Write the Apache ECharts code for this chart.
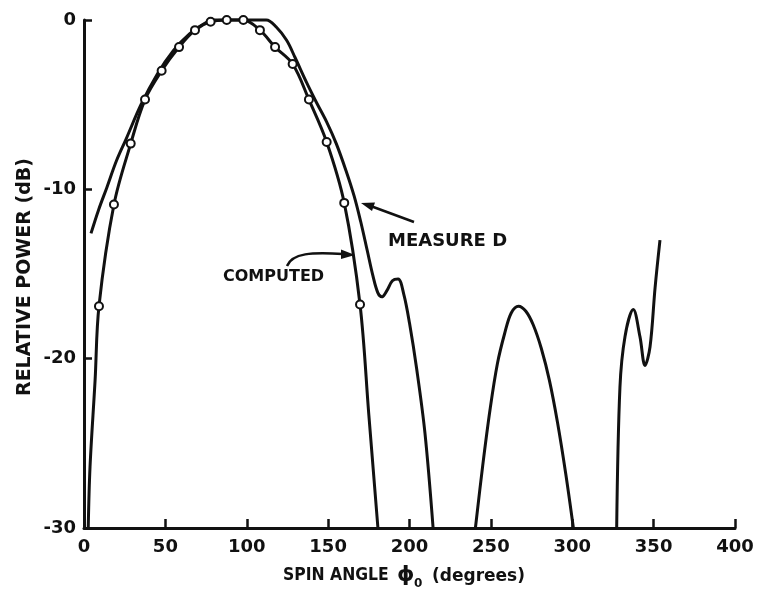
<!DOCTYPE html>
<html><head><meta charset="utf-8">
<script src="https://cdn.jsdelivr.net/npm/echarts@6/dist/echarts.min.js"></script>
<style>html,body{margin:0;padding:0;background:#fff}#c{width:757px;height:590px}</style>
</head><body><div id="c"></div>
<script>
// Computed pattern (smooth line) and its circle markers
const computedX = [2.6, 3.7, 6.8, 9.2, 18.4, 28.7, 37.5, 47.7, 58.4, 68.2, 77.8, 87.7, 97.9, 108.1, 117.4, 128.2, 138.2, 149.1, 159.9, 169.6, 175.0, 180.6];
const computedY = [-30, -26.4, -21.3, -16.9, -10.9, -7.3, -4.7, -3.0, -1.6, -0.6, -0.1, 0, 0, -0.6, -1.6, -2.6, -4.7, -7.2, -10.8, -16.8, -23.3, -30];
const circleX = [9.2, 18.4, 28.7, 37.5, 47.7, 58.4, 68.2, 77.8, 87.7, 97.9, 108.1, 117.4, 128.2, 138.2, 149.1, 159.9, 169.6];
const circleY = [-16.9, -10.9, -7.3, -4.7, -3.0, -1.6, -0.6, -0.1, 0, 0, -0.6, -1.6, -2.6, -4.7, -7.2, -10.8, -16.8];
// Measured pattern, three visible pieces
const measured1X = [4.3, 9, 14, 20, 26, 35, 45, 55, 65, 75, 80, 112, 118, 124.5, 129.6, 136.8, 143, 149, 155, 161, 166, 170, 174, 177.5, 180.5, 183, 186, 189.5, 193, 196.5, 200, 204.4, 209.5, 214.5];
const measured1Y = [-12.6, -11.2, -9.9, -8.3, -7.0, -5.0, -3.2, -1.8, -0.8, -0.15, 0, 0, -0.4, -1.2, -2.2, -3.7, -4.9, -6.0, -7.3, -8.9, -10.4, -11.9, -13.6, -15.1, -16.1, -16.35, -16.0, -15.4, -15.3, -16.2, -17.9, -20.6, -24.4, -30];
const measured2X = [240.5, 245, 249.5, 254, 258.5, 262.5, 267, 271.5, 276, 281, 286, 291, 296, 300.7];
const measured2Y = [-30, -26.3, -23.0, -20.3, -18.5, -17.3, -16.9, -17.2, -18.0, -19.4, -21.3, -23.8, -26.8, -30];
const measured3X = [327.3, 329.3, 332.4, 337.5, 341.6, 344.7, 347.8, 350.9, 353.9];
const measured3Y = [-30, -21.7, -18.7, -17.1, -18.7, -20.4, -19.3, -15.8, -13.0];

const zip = (xs, ys) => xs.map((x, i) => [x, ys[i]]);
const INK = '#111';
const FONT = 'DejaVu Sans';

const lineSeries = (xs, ys) => ({
  type: 'line', data: zip(xs, ys), smooth: 0.35, symbol: 'none', clip: false,
  lineStyle: { color: INK, width: 3 }, z: 3
});

const chart = echarts.init(document.getElementById('c'), null, { renderer: 'canvas' });
chart.setOption({
  backgroundColor: '#fff',
  animation: false,
  grid: { left: 84, right: 22, top: 20, bottom: 62 },
  xAxis: {
    type: 'value', min: 0, max: 400, interval: 50,
    axisLine: { show: true, onZero: false, lineStyle: { color: INK, width: 3 } },
    axisTick: { show: true, inside: true, length: 9, lineStyle: { color: INK, width: 2.5 } },
    axisLabel: { color: INK, fontFamily: FONT, fontWeight: 'bold', fontSize: 18, margin: 10 },
    splitLine: { show: false }
  },
  yAxis: {
    type: 'value', min: -30, max: 0, interval: 10,
    axisLine: { show: true, onZero: false, lineStyle: { color: INK, width: 3 } },
    axisTick: { show: true, inside: true, length: 8, lineStyle: { color: INK, width: 2.5 } },
    axisLabel: { color: INK, fontFamily: FONT, fontWeight: 'bold', fontSize: 18, margin: 8 },
    splitLine: { show: false }
  },
  series: [
    lineSeries(computedX, computedY),
    lineSeries(measured1X, measured1Y),
    lineSeries(measured2X, measured2Y),
    lineSeries(measured3X, measured3Y),
    {
      type: 'scatter', data: zip(circleX, circleY), symbol: 'circle', symbolSize: 8,
      itemStyle: { color: '#fff', borderColor: INK, borderWidth: 2, opacity: 1 }, z: 5
    }
  ],
  graphic: [
    { type: 'text', x: 25, y: 277, rotation: Math.PI / 2,
      style: { text: 'RELATIVE POWER (dB)', font: 'bold 19px "DejaVu Sans"', fill: INK, align: 'center', verticalAlign: 'middle' } },
    { type: 'text', x: 283, y: 576, scaleX: 0.92,
      style: { text: 'SPIN ANGLE', font: 'bold 17px "DejaVu Sans"', fill: INK, align: 'left', verticalAlign: 'middle' } },
    { type: 'text', x: 397, y: 575,
      style: { text: 'ϕ', font: 'bold 22px "DejaVu Sans"', fill: INK, align: 'left', verticalAlign: 'middle' } },
    { type: 'text', x: 414, y: 584,
      style: { text: '0', font: 'bold 12px "DejaVu Sans"', fill: INK, align: 'left', verticalAlign: 'middle' } },
    { type: 'text', x: 432, y: 577,
      style: { text: '(degrees)', font: 'bold 17px "DejaVu Sans"', fill: INK, align: 'left', verticalAlign: 'middle' } },
    { type: 'text', x: 388, y: 241,
      style: { text: 'MEASURE D', font: 'bold 18px "DejaVu Sans"', fill: INK, align: 'left', verticalAlign: 'middle' } },
    { type: 'text', x: 223, y: 277,
      style: { text: 'COMPUTED', font: 'bold 16px "DejaVu Sans"', fill: INK, align: 'left', verticalAlign: 'middle' } },
    { type: 'line', shape: { x1: 414, y1: 222, x2: 372, y2: 206.5 }, style: { stroke: INK, lineWidth: 2.5 } },
    { type: 'polygon', shape: { points: [[361, 203], [375, 202.5], [372, 211]] }, style: { fill: INK } },
    { type: 'bezierCurve', shape: { x1: 287, y1: 266, cpx1: 292, cpy1: 253, cpx2: 312, cpy2: 252, x2: 343, y2: 254 },
      style: { stroke: INK, lineWidth: 2.5, fill: null } },
    { type: 'polygon', shape: { points: [[355, 255], [341, 249.5], [341, 259]] }, style: { fill: INK } }
  ]
});
</script>
</body></html>
